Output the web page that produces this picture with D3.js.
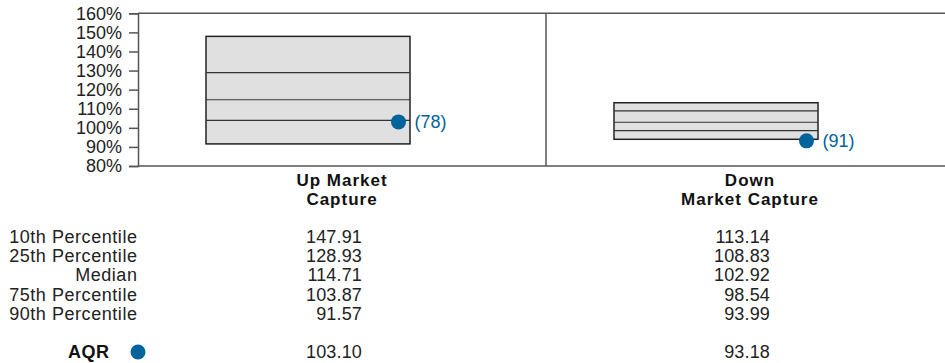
<!DOCTYPE html>
<html>
<head>
<meta charset="utf-8">
<script src="https://cdn.jsdelivr.net/npm/d3@7"></script>
<style>
  html, body { margin: 0; padding: 0; background: #fff; }
  svg { display: block; font-family: "Liberation Sans", Arial, Helvetica, sans-serif; }
</style>
</head>
<body>
<svg id="chart" width="945" height="363"></svg>
<script>
// Capture ratio distributions (percentile breakpoints) per category
const categories = ["Up Market\nCapture", "Down\nMarket Capture"];
const rowLabels = ["10th Percentile", "25th Percentile", "Median", "75th Percentile", "90th Percentile"];
const upCapture = [147.91, 128.93, 114.71, 103.87, 91.57];
const downCapture = [113.14, 108.83, 102.92, 98.54, 93.99];
const fundName = "AQR";
const fundValues = [103.10, 93.18];
const fundRanks = [78, 91];
const yTicks = [80, 90, 100, 110, 120, 130, 140, 150, 160];

const series = [upCapture, downCapture];
const dotColor = "#00639c";

const svg = d3.select("#chart");

const plot = { left: 138, right: 954, top: 13.3, bottom: 166 };

const x = d3.scaleBand()
  .domain(categories)
  .range([plot.left, plot.right])
  .paddingInner(0).paddingOuter(0);

const y = d3.scaleLinear()
  .domain([80, 160])
  .range([plot.bottom, plot.top]);

const bw = x.bandwidth();

// Frame: top and bottom rules plus category divider
const frame = svg.append("g").attr("stroke", "#555").attr("stroke-width", 1.5).attr("fill", "none");
frame.append("line").attr("x1", plot.left).attr("x2", plot.right).attr("y1", y(160)).attr("y2", y(160));
frame.append("line").attr("x1", plot.left).attr("x2", plot.right).attr("y1", y(80)).attr("y2", y(80));
categories.slice(1).forEach(c => {
  frame.append("line").attr("x1", x(c)).attr("x2", x(c)).attr("y1", y(160)).attr("y2", y(80));
});

// Y axis
const yAxis = d3.axisLeft(y)
  .tickValues(yTicks)
  .tickFormat(d => d + "%")
  .tickSize(9)
  .tickPadding(7);

const yg = svg.append("g")
  .attr("transform", `translate(${plot.left},0)`)
  .call(yAxis);
yg.select(".domain").attr("stroke", "#555").attr("stroke-width", 1.5);
yg.selectAll(".tick line").attr("stroke", "#555").attr("stroke-width", 1.5);
yg.selectAll(".tick text")
  .attr("font-size", 18)
  .attr("fill", "#222")
  .attr("font-family", "'Liberation Sans', Arial, sans-serif");

// Floating boxes: 10th to 90th percentile with inner quartile/median lines
const boxes = svg.append("g");
categories.forEach((c, i) => {
  const vals = series[i];
  const x0 = x(c) + bw / 6;
  const w = bw / 2;
  boxes.append("rect")
    .attr("x", x0)
    .attr("y", y(vals[0]))
    .attr("width", w)
    .attr("height", y(vals[4]) - y(vals[0]))
    .attr("fill", "#e0e0e0")
    .attr("stroke", "#222")
    .attr("stroke-width", 1.5);
  [vals[1], vals[2], vals[3]].forEach(v => {
    boxes.append("line")
      .attr("x1", x0).attr("x2", x0 + w)
      .attr("y1", y(v)).attr("y2", y(v))
      .attr("stroke", "#333")
      .attr("stroke-width", 1.2);
  });

  // Fund marker and rank label
  const cx = x0 + w - 11.5;
  boxes.append("circle")
    .attr("cx", cx)
    .attr("cy", y(fundValues[i]))
    .attr("r", 7.5)
    .attr("fill", dotColor);
  boxes.append("text")
    .attr("x", cx + 16)
    .attr("y", y(fundValues[i]))
    .attr("dy", "0.36em")
    .attr("font-size", 18)
    .attr("fill", dotColor)
    .text(`(${fundRanks[i]})`);
});

// Category headers (two lines, bold)
const headers = svg.append("g")
  .attr("text-anchor", "middle")
  .attr("font-weight", "bold")
  .attr("font-size", 17)
  .attr("letter-spacing", 1)
  .attr("fill", "#111");
categories.forEach(c => {
  const cxm = x(c) + bw / 2;
  c.split("\n").forEach((line, j) => {
    headers.append("text")
      .attr("x", cxm)
      .attr("y", 186 + j * 19.2)
      .text(line);
  });
});

// Percentile table
const rowY = d3.scalePoint()
  .domain(rowLabels)
  .range([242.7, 320]);

const table = svg.append("g").attr("font-size", 18).attr("fill", "#222");
rowLabels.forEach((lab, r) => {
  table.append("text")
    .attr("x", 137.5)
    .attr("y", rowY(lab))
    .attr("text-anchor", "end")
    .attr("letter-spacing", 0.55)
    .text(lab);
  categories.forEach((c, i) => {
    table.append("text")
      .attr("x", x(c) + bw / 2 + 20)
      .attr("y", rowY(lab))
      .attr("text-anchor", "end")
      .attr("letter-spacing", 0.15)
      .text(series[i][r].toFixed(2));
  });
});

// Fund row
const fundY = 358;
table.append("text")
  .attr("x", 109.5)
  .attr("y", fundY)
  .attr("text-anchor", "end")
  .attr("font-weight", "bold")
  .attr("letter-spacing", 0.5)
  .attr("fill", "#111")
  .text(fundName);
table.append("circle")
  .attr("cx", 138)
  .attr("cy", 352)
  .attr("r", 7.5)
  .attr("fill", dotColor);
categories.forEach((c, i) => {
  table.append("text")
    .attr("x", x(c) + bw / 2 + 20)
    .attr("y", fundY)
    .attr("text-anchor", "end")
    .attr("letter-spacing", 0.15)
    .text(fundValues[i].toFixed(2));
});
</script>
</body>
</html>
